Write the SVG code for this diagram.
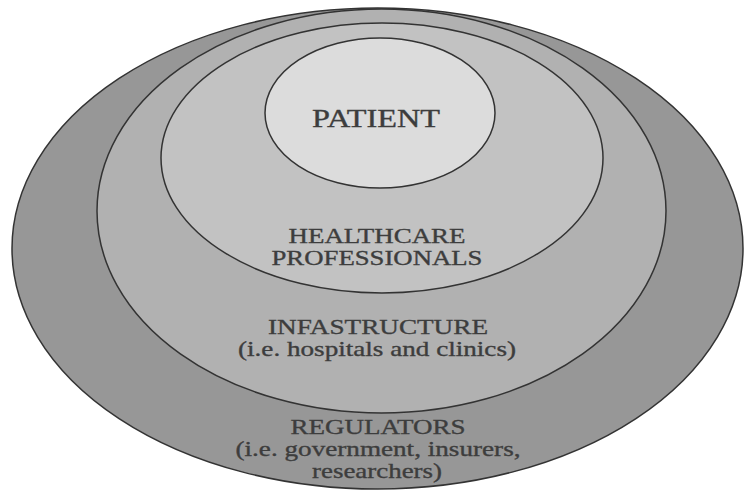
<svg xmlns="http://www.w3.org/2000/svg" width="745" height="491" viewBox="0 0 745 491">
  <style>
    .ring { stroke: #333333; stroke-width: 1.5; }
    .lbl { font-family: "Liberation Serif", "Times New Roman", serif; fill: #3d3d3d; stroke: #3d3d3d; stroke-width: 0.35; text-anchor: middle; }
    .big { font-size: 25px; }
    .mid { font-size: 21px; }
  </style>
  <rect width="745" height="491" fill="#ffffff"/>
  <g id="regulators">
    <ellipse class="ring" cx="377.5" cy="248.5" rx="365.5" ry="240.5" fill="#979797"/>
    <text class="lbl mid" x="378" y="434" textLength="175" lengthAdjust="spacingAndGlyphs">REGULATORS</text>
    <text class="lbl mid" x="378" y="456" textLength="285" lengthAdjust="spacingAndGlyphs">(i.e. government, insurers,</text>
    <text class="lbl mid" x="377" y="478" textLength="130" lengthAdjust="spacingAndGlyphs">researchers)</text>
  </g>
  <g id="infrastructure">
    <ellipse class="ring" cx="381.5" cy="211" rx="284.5" ry="202" fill="#b1b1b1"/>
    <text class="lbl mid" x="378" y="334" textLength="220" lengthAdjust="spacingAndGlyphs">INFASTRUCTURE</text>
    <text class="lbl mid" x="377" y="356" textLength="278" lengthAdjust="spacingAndGlyphs">(i.e. hospitals and clinics)</text>
  </g>
  <g id="healthcare-professionals">
    <ellipse class="ring" cx="382" cy="158" rx="221" ry="135" fill="#c2c2c2"/>
    <text class="lbl mid" x="377" y="243" textLength="177" lengthAdjust="spacingAndGlyphs">HEALTHCARE</text>
    <text class="lbl mid" x="377" y="265" textLength="211" lengthAdjust="spacingAndGlyphs">PROFESSIONALS</text>
  </g>
  <g id="patient">
    <ellipse class="ring" cx="380" cy="113" rx="115" ry="75" fill="#dcdcdc"/>
    <text class="lbl big" x="376" y="127" textLength="128" lengthAdjust="spacingAndGlyphs">PATIENT</text>
  </g>
  <g id="connectors"/>
</svg>
